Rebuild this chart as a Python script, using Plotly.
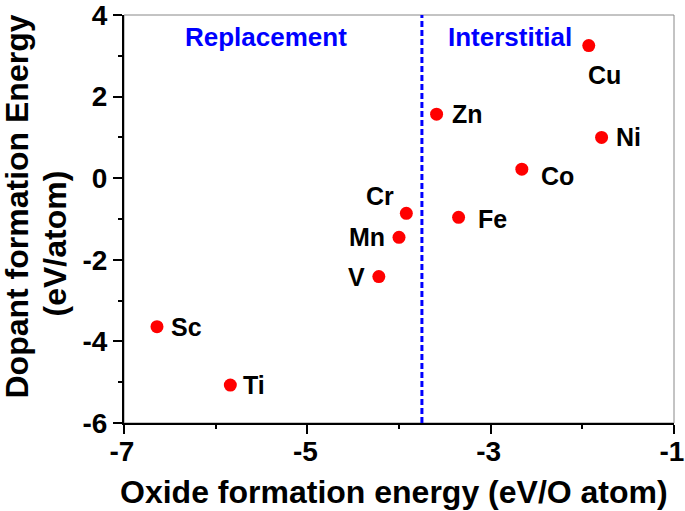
import plotly.graph_objects as go

elements = ["Sc", "Ti", "V", "Mn", "Cr", "Zn", "Fe", "Co", "Cu", "Ni"]
oxide_energy = [-6.64, -5.84, -4.22, -4.00, -3.92, -3.59, -3.35, -2.66, -1.93, -1.79]
dopant_energy = [-3.64, -5.07, -2.41, -1.45, -0.86, 1.57, -0.96, 0.22, 3.25, 1.00]
divider_x = -3.75
x_ticks = [-7, -5, -3, -1]
y_ticks = [-6, -4, -2, 0, 2, 4]

# label placement (pixel offsets / anchors) per element
label_style = {
    "Sc": (12, 0, "left"), "Ti": (11, 0, "left"), "V": (-12, 0, "right"),
    "Mn": (-12, 0, "right"), "Cr": (-10, 17, "right"), "Zn": (13, 0, "left"),
    "Fe": (17, -2, "left"), "Co": (17, -7, "left"), "Cu": (16, -29, "center"),
    "Ni": (12, 0, "left"),
}

font_family = "Liberation Sans, Arial, sans-serif"

fig = go.Figure()
fig.add_trace(go.Scatter(
    x=oxide_energy, y=dopant_energy, mode="markers",
    marker=dict(color="#ff0000", size=13, line=dict(width=0)),
    showlegend=False, hoverinfo="skip",
))

annotations = []
for el, xv, yv in zip(elements, oxide_energy, dopant_energy):
    dx, dy, anc = label_style[el]
    annotations.append(dict(
        x=xv, y=yv, xref="x", yref="y", text="<b>%s</b>" % el, showarrow=False,
        xanchor=anc, yanchor="middle", xshift=dx, yshift=dy,
        font=dict(family=font_family, size=25, color="black"),
    ))
annotations.append(dict(x=-5.45, y=3.45, xref="x", yref="y", text="<b>Replacement</b>",
                        showarrow=False, xanchor="center", yanchor="middle",
                        font=dict(family=font_family, size=26, color="#0000ff")))
annotations.append(dict(x=-2.79, y=3.45, xref="x", yref="y", text="<b>Interstitial</b>",
                        showarrow=False, xanchor="center", yanchor="middle",
                        font=dict(family=font_family, size=26, color="#0000ff")))
title_font = dict(family=font_family, size=32, color="black")
annotations.append(dict(x=0.49, y=-0.168, xref="paper", yref="paper",
                        text="<b>Oxide formation energy (eV/O atom)</b>", showarrow=False,
                        xanchor="center", yanchor="middle", font=title_font))
annotations.append(dict(x=-0.195, y=0.53, xref="paper", yref="paper",
                        text="<b>Dopant formation Energy</b>", showarrow=False, textangle=-90,
                        xanchor="center", yanchor="middle", font=title_font))
annotations.append(dict(x=-0.1254, y=0.44, xref="paper", yref="paper",
                        text="<b>(eV/atom)</b>", showarrow=False, textangle=-90,
                        xanchor="center", yanchor="middle", font=title_font))

shapes = [
    dict(type="rect", xref="paper", yref="paper", x0=0, x1=1, y0=0, y1=1,
         line=dict(color="#888888", width=1), layer="below"),
    dict(type="line", xref="x", yref="paper", x0=divider_x, x1=divider_x, y0=0, y1=1,
         line=dict(color="#0000ff", width=3, dash="6px,3px")),
]

axis_font = dict(family=font_family, size=28, color="black")

fig.update_layout(
    width=685, height=511,
    margin=dict(l=124, r=11, t=15, b=88),
    paper_bgcolor="white", plot_bgcolor="white",
    annotations=annotations, shapes=shapes,
    xaxis=dict(
        range=[-7, -1], tickvals=x_ticks, ticktext=["<b>%d</b>" % v for v in x_ticks],
        showgrid=False, zeroline=False, showline=True, linecolor="black", linewidth=2,
        ticks="outside", ticklen=9, tickwidth=2, tickcolor="black",
        minor=dict(dtick=1, ticks="outside", ticklen=4, tickwidth=2, tickcolor="black", showgrid=False),
        tickfont=axis_font, automargin=False, ticklabeloverflow="allow",
        ticklabelstandoff=-7, ticklabelshift=-2,
    ),
    yaxis=dict(
        range=[-6, 4], tickvals=y_ticks, ticktext=["<b>%d</b>" % v for v in y_ticks],
        showgrid=False, zeroline=False, showline=True, linecolor="black", linewidth=2,
        ticks="outside", ticklen=9, tickwidth=2, tickcolor="black",
        minor=dict(dtick=1, ticks="outside", ticklen=4, tickwidth=2, tickcolor="black", showgrid=False),
        tickfont=axis_font, automargin=False, ticklabeloverflow="allow",
    ),
)

fig.write_html("out.html", config={"displayModeBar": False},
               post_script="document.body.style.margin='0';document.body.style.overflow='hidden';")
